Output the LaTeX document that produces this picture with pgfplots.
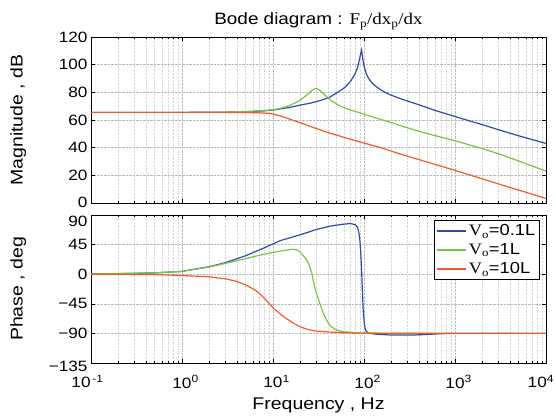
\documentclass[border=0pt]{standalone}
\usepackage{fontspec}
\setmainfont{Liberation Sans}[FakeStretch=1.15]
\newfontfamily\tnr{Liberation Serif}[FakeStretch=1.15]
\usepackage{pgfplots}
\pgfplotsset{compat=1.18}
\definecolor{cblue}{RGB}{45,75,165}
\definecolor{cgreen}{RGB}{120,195,70}
\definecolor{corange}{RGB}{240,90,40}
\pgfplotsset{
  bodestyle/.style={
    scale only axis, width=455bp, xmin=0.1, xmax=10000,
    tick align=inside, major tick length=4bp, minor tick length=2bp,
    grid=both,
    major grid style={densely dotted, gray!55},
    minor grid style={densely dotted, gray!30},
    axis line style={black, line width=0.6pt},
    every tick/.style={black, line width=0.4pt},
    ticklabel style={font=\fontsize{15}{17}\selectfont},
    label style={font=\fontsize{17}{19}\selectfont},
    xtick={0.1,1,10,100,1000,10000},
    every axis plot/.append style={line width=1.2pt, no marks},
  }
}
\begin{document}
\begin{tikzpicture}
\useasboundingbox (0,0) rectangle (556bp,420bp);
\begin{semilogxaxis}[bodestyle, at={(91bp,217bp)}, anchor=south west, height=166bp,
  ymin=0, ymax=120, ytick={0,20,40,60,80,100,120},
  yticklabels={\smash{\raisebox{1bp}{0}}\vphantom{0},20,40,60,80,100,120},
  xticklabels={,,,,,},
  ylabel={Magnitude , dB},
  ylabel style={at={(axis description cs:-0.16,0.5)}, anchor=center},
  title={Bode diagram : {\tnr F\textsubscript{p}/dx\textsubscript{p}/dx}},
  title style={font=\fontsize{16.5}{18}\selectfont, yshift=-2bp}]
\addplot[cblue] coordinates {(0.1,65.5)(0.3,65.5)(1,65.5)(2,65.6)(3,65.7)(5,66)(8,66.6)(10,67.2)(12,68)(15,69)(20,70.8)(25,72)(30,73.3)(35,74.6)(42,76.5)(50,79.5)(60,83)(65,85)(72,88.5)(80,93.5)(85,98)(89,103.5)(92,108)(94,110.6)(95.5,107.5)(97,104)(99,100.5)(102,97)(106,93.5)(112,90.2)(120,87.5)(130,85.2)(145,82.8)(165,80.5)(193,78.3)(250,75.5)(320,73.1)(400,71)(600,67)(1000,62.5)(2000,56.6)(3000,53)(5000,48.6)(10000,43)};
\addplot[cgreen] coordinates {(0.1,65.5)(1,65.5)(3,65.7)(5,66.1)(8,66.8)(10,67.4)(12,68.3)(15,70.3)(18,72.7)(20,74.5)(24,78.5)(27,81.5)(29,82.8)(31,82.4)(34,80.5)(38,77.5)(42,75)(46,73)(55,70)(70,67.3)(90,65.2)(107,63.5)(150,60.6)(200,58.1)(250,56)(400,51.8)(700,47.6)(1000,45)(2000,39.3)(3000,35.6)(5000,30.4)(10000,23)};
\addplot[corange] coordinates {(0.1,65.5)(1,65.5)(3,65.5)(5,65.4)(7,65.2)(9,64.8)(10,64.3)(12,63)(15,60.8)(20,58)(28,54.5)(40,51)(65,46.8)(100,43.3)(150,40.2)(250,35.4)(500,29.5)(1000,23.6)(3000,13.8)(10000,3.3)};
\end{semilogxaxis}
\begin{semilogxaxis}[bodestyle, at={(91bp,57bp)}, anchor=south west, height=148bp,
  ymin=-135, ymax=90, ytick={-135,-90,-45,0,45,90},
  yticklabels={\smash{\raisebox{-3bp}{−135}}\vphantom{0},−90,−45,0,45,\smash{\raisebox{-6bp}{90}}\vphantom{0}},
  xticklabels={\makebox[0pt][c]{\hspace*{-7bp}10\textsuperscript{\,-1}},
    \makebox[0pt][c]{10\rlap{\textsuperscript{0}}},
    \makebox[0pt][c]{10\rlap{\textsuperscript{1}}},
    \makebox[0pt][c]{10\rlap{\textsuperscript{2}}},
    \makebox[0pt][c]{10\rlap{\textsuperscript{3}}},
    \makebox[0pt][r]{10\textsuperscript{4}\hspace*{-8bp}}},
  xticklabel style={yshift=-9bp},
  xlabel={Frequency , Hz},
  xlabel style={at={(axis description cs:0.5,-0.284)}, anchor=center},
  ylabel={Phase , deg},
  ylabel style={at={(axis description cs:-0.16,0.5)}, anchor=center},
  legend style={at={(axis description cs:0.986,0.966)}, anchor=north east,
    draw=black, line width=0.6pt, fill=white, font=\fontsize{16}{18}\selectfont,
    inner sep=2bp, row sep=2.5bp, cells={anchor=west}},
  legend image code/.code={\draw[#1, line width=1.8pt] (0bp,0bp) -- (29bp,0bp);}]
\addplot[cblue] coordinates {(0.1,0.4)(0.2,0.8)(0.5,2)(1,4.3)(2,11.5)(3,17.5)(5,28)(8,40)(12,51)(20,60)(30,68)(42,73)(55,75.5)(70,77)(80,75.5)(85,71)(88,63)(90,52)(92,35)(94,7)(96,-25)(98,-55)(101,-76)(104,-85)(110,-89)(130,-91)(200,-92.5)(350,-92.5)(500,-91.5)(700,-90.5)(1000,-90)(10000,-90)};
\addlegendentry{{\tnr V\textsubscript{o}}=0.1L}
\addplot[cgreen] coordinates {(0.1,0.4)(0.5,2)(1,4.3)(2,11)(3,16.5)(5,23.5)(8,30.5)(12,35)(16.7,38)(19,36)(21,30)(23.4,22)(25,14)(26.7,2)(28.6,-19)(30.5,-32)(32.6,-44)(35,-56)(37.2,-65)(40,-73)(43.8,-80)(50,-85)(59,-87.5)(80,-89)(110,-89.5)(10000,-90)};
\addlegendentry{{\tnr V\textsubscript{o}}=1L}
\addplot[corange] coordinates {(0.1,0)(0.5,-0.5)(1,-2)(2,-4)(3,-7)(4,-11)(5.14,-17)(6.5,-25)(7.84,-35)(9,-44)(10,-51)(11,-56)(12,-60.5)(13.5,-66)(15,-70)(17,-75)(20,-80)(24,-84)(30,-86.5)(42,-88)(80,-89.5)(150,-90)(10000,-90)};
\addlegendentry{{\tnr V\textsubscript{o}}=10L}
\end{semilogxaxis}
\end{tikzpicture}
\end{document}
